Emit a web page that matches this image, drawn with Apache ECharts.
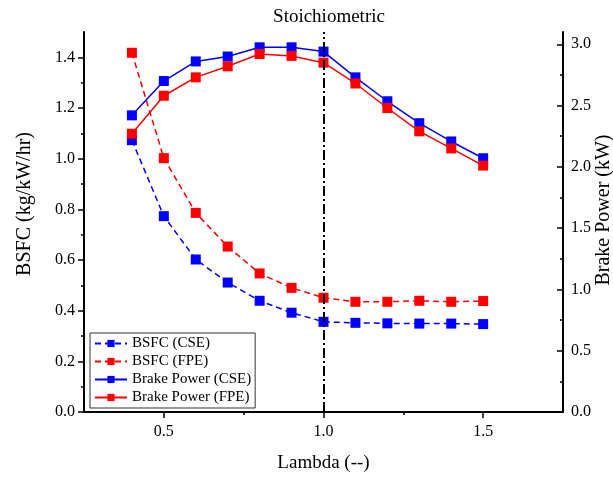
<!DOCTYPE html>
<html>
<head>
<meta charset="utf-8">
<script src="https://cdn.jsdelivr.net/npm/echarts@6/dist/echarts.min.js"></script>
<style>html,body{margin:0;padding:0;background:#fff}#c{width:613px;height:477px}</style>
</head>
<body>
<div id="c"></div>
<script>
const lambda = [0.4, 0.5, 0.6, 0.7, 0.8, 0.9, 1.0, 1.1, 1.2, 1.3, 1.4, 1.5];
const bsfcCSE = [1.073, 0.773, 0.602, 0.511, 0.439, 0.392, 0.356, 0.352, 0.350, 0.349, 0.349, 0.347];
const bsfcFPE = [1.418, 1.002, 0.786, 0.653, 0.547, 0.490, 0.451, 0.435, 0.435, 0.439, 0.435, 0.438];
const bpCSE = [2.42, 2.70, 2.86, 2.90, 2.975, 2.975, 2.94, 2.73, 2.535, 2.356, 2.207, 2.07];
const bpFPE = [2.27, 2.58, 2.73, 2.82, 2.92, 2.905, 2.85, 2.68, 2.48, 2.29, 2.15, 2.01];
const xTicks = [0.5, 1.0, 1.5];
const xMinor = [0.75, 1.25];
const yLeftTicks = [0, 0.2, 0.4, 0.6, 0.8, 1.0, 1.2, 1.4];
const yLeftMinor = [0.1, 0.3, 0.5, 0.7, 0.9, 1.1, 1.3];
const yRightTicks = [0, 0.5, 1.0, 1.5, 2.0, 2.5, 3.0];
const yRightMinor = [0.25, 0.75, 1.25, 1.75, 2.25, 2.75];
const stoichLambda = 1.0;

const FONT = 'Liberation Serif';
const pair = (xs, ys) => xs.map((x, i) => [x, ys[i]]);
const axLine = {show: true, lineStyle: {color: '#000', width: 2}};

const chart = echarts.init(document.getElementById('c'));
chart.setOption({
  animation: false,
  title: {text: 'Stoichiometric', left: 324, textAlign: 'center', top: 3,
    textStyle: {fontFamily: FONT, fontSize: 19, fontWeight: 'normal', color: '#000'}},
  grid: {left: 84, right: 50, top: 32, bottom: 65, outerBoundsMode: 'none', containLabel: false},
  legend: {
    orient: 'vertical', left: 90, top: 333, itemWidth: 32, itemHeight: 9, itemGap: 3,
    borderColor: '#333', borderWidth: 1, padding: [3, 4, 3, 4], borderRadius: 0,
    textStyle: {fontFamily: FONT, fontSize: 15, color: '#000'},
    data: ['BSFC (CSE)', 'BSFC (FPE)', 'Brake Power (CSE)', 'Brake Power (FPE)']
  },
  xAxis: [
    {type: 'value', min: 0.25, max: 1.75, position: 'bottom',
      name: 'Lambda (--)', nameLocation: 'middle', nameGap: 42,
      nameTextStyle: {fontFamily: FONT, fontSize: 19, color: '#000'},
      axisLine: axLine, splitLine: {show: false},
      axisTick: {customValues: xTicks, length: 6, lineStyle: {color: '#000', width: 1.5}},
      axisLabel: {customValues: xTicks, fontFamily: FONT, fontSize: 16, color: '#000', margin: 12,
        formatter: v => v.toFixed(1)}},
    {type: 'value', min: 0.25, max: 1.75, position: 'bottom',
      axisLine: {show: false}, splitLine: {show: false}, axisLabel: {show: false},
      axisTick: {customValues: xMinor, length: 3, lineStyle: {color: '#000', width: 1.5}}}
  ],
  yAxis: [
    {type: 'value', min: 0, max: 1.5, position: 'left',
      name: 'BSFC (kg/kW/hr)', nameLocation: 'middle', nameGap: 49, nameRotate: 90,
      nameTextStyle: {fontFamily: FONT, fontSize: 20, color: '#000', padding: [0, 0, 0, 36]},
      axisLine: axLine, splitLine: {show: false},
      axisTick: {customValues: yLeftTicks, length: 6, lineStyle: {color: '#000', width: 1.5}},
      axisLabel: {customValues: yLeftTicks, fontFamily: FONT, fontSize: 16, color: '#000', margin: 9,
        formatter: v => v.toFixed(1)}},
    {type: 'value', min: 0, max: 3.1, position: 'right',
      name: 'Brake Power (kW)', nameLocation: 'middle', nameGap: 31, nameRotate: 90,
      nameMoveOverlap: false,
      nameTextStyle: {fontFamily: FONT, fontSize: 20, color: '#000', padding: [0, 0, 0, 24]},
      axisLine: axLine, splitLine: {show: false},
      axisTick: {inside: true, customValues: yRightTicks, length: 6, lineStyle: {color: '#000', width: 1.5}},
      axisLabel: {customValues: yRightTicks, fontFamily: FONT, fontSize: 16, color: '#000', margin: 8,
        formatter: v => v.toFixed(1)}},
    {type: 'value', min: 0, max: 1.5, position: 'left',
      axisLine: {show: false}, splitLine: {show: false}, axisLabel: {show: false},
      axisTick: {customValues: yLeftMinor, length: 3, lineStyle: {color: '#000', width: 1.5}}},
    {type: 'value', min: 0, max: 3.1, position: 'right',
      axisLine: {show: false}, splitLine: {show: false}, axisLabel: {show: false},
      axisTick: {inside: true, customValues: yRightMinor, length: 3, lineStyle: {color: '#000', width: 1.5}}}
  ],
  series: [
    {name: 'BSFC (CSE)', type: 'line', xAxisIndex: 0, yAxisIndex: 0, data: pair(lambda, bsfcCSE),
      symbol: 'rect', symbolSize: 10, color: '#0000ff',
      lineStyle: {color: '#0000ff', width: 1.5, type: [6, 4]}, itemStyle: {color: '#0000ff'},
      markLine: {silent: true, symbol: 'none', label: {show: false},
        lineStyle: {color: '#000', width: 2, type: [10, 3, 2, 3]},
        data: [{xAxis: stoichLambda}]}},
    {name: 'BSFC (FPE)', type: 'line', xAxisIndex: 0, yAxisIndex: 0, data: pair(lambda, bsfcFPE),
      symbol: 'rect', symbolSize: 10, color: '#ff0000',
      lineStyle: {color: '#ff0000', width: 1.5, type: [6, 4]}, itemStyle: {color: '#ff0000'}},
    {name: 'Brake Power (CSE)', type: 'line', xAxisIndex: 0, yAxisIndex: 1, data: pair(lambda, bpCSE),
      symbol: 'rect', symbolSize: 10, color: '#0000ff',
      lineStyle: {color: '#0000ff', width: 1.5}, itemStyle: {color: '#0000ff'}},
    {name: 'Brake Power (FPE)', type: 'line', xAxisIndex: 0, yAxisIndex: 1, data: pair(lambda, bpFPE),
      symbol: 'rect', symbolSize: 10, color: '#ff0000',
      lineStyle: {color: '#ff0000', width: 1.5}, itemStyle: {color: '#ff0000'}}
  ]
});
</script>
</body>
</html>
